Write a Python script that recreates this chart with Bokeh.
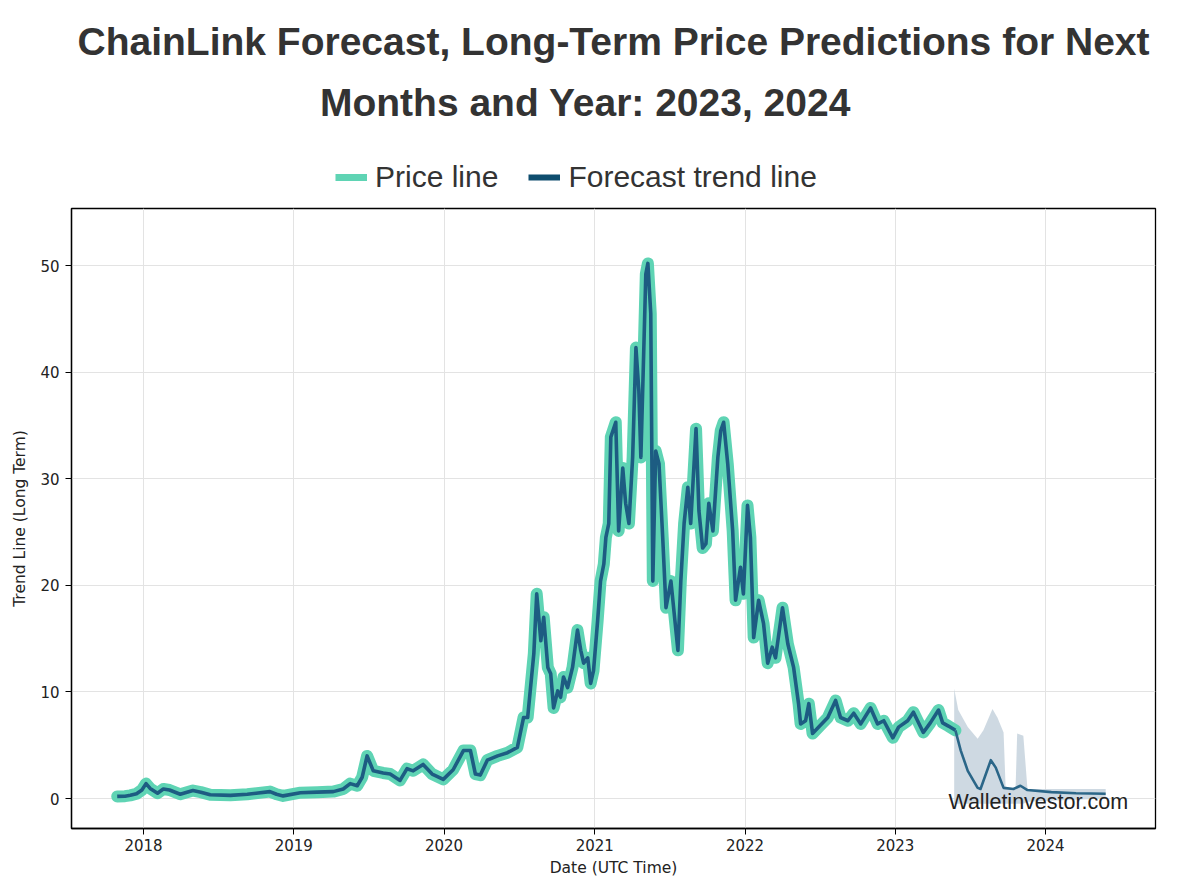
import pandas as pd
from bokeh.plotting import figure
from bokeh.layouts import column
from bokeh.models import (Range1d, FixedTicker, DatetimeTickFormatter, Legend,
                          LegendItem, Label)
from bokeh.embed import file_html
from bokeh.resources import INLINE

# ---------------- texts ----------------
title_line1 = "ChainLink Forecast, Long-Term Price Predictions for Next"
title_line2 = "Months and Year: 2023, 2024"
x_label = "Date (UTC Time)"
y_label = "Trend Line (Long Term)"
watermark = "Walletinvestor.com"
legend_price = "Price line"
legend_trend = "Forecast trend line"

# ---------------- ticks ----------------
tick_years = [2018, 2019, 2020, 2021, 2022, 2023, 2024]
y_ticks = [0, 10, 20, 30, 40, 50]

# ---------------- price history ----------------
price_dates = [
    "2017-10-29", "2017-11-17", "2017-11-30", "2017-12-15", "2017-12-28",
    "2018-01-07", "2018-01-17", "2018-02-04", "2018-02-18", "2018-03-05",
    "2018-03-31", "2018-05-01", "2018-05-20", "2018-06-12", "2018-07-31",
    "2018-09-10", "2018-11-04", "2018-11-20", "2018-12-06", "2019-01-17",
    "2019-02-27", "2019-04-07", "2019-05-01", "2019-05-18", "2019-06-04",
    "2019-06-16", "2019-06-28", "2019-07-13", "2019-08-06", "2019-08-23",
    "2019-09-16", "2019-10-03", "2019-10-18", "2019-11-11", "2019-12-03",
    "2019-12-30", "2020-01-23", "2020-02-17", "2020-03-05", "2020-03-17",
    "2020-03-29", "2020-04-15", "2020-05-10", "2020-06-03", "2020-06-27",
    "2020-07-12", "2020-07-22", "2020-07-29", "2020-08-06", "2020-08-13",
    "2020-08-23", "2020-08-30", "2020-09-09", "2020-09-16", "2020-09-23",
    "2020-10-03", "2020-10-10", "2020-10-17", "2020-10-27", "2020-11-08",
    "2020-11-20", "2020-11-28", "2020-12-05", "2020-12-15", "2020-12-22",
    "2020-12-29", "2021-01-08", "2021-01-15", "2021-01-23", "2021-01-28",
    "2021-02-04", "2021-02-09", "2021-02-21", "2021-02-28", "2021-03-10",
    "2021-03-17", "2021-03-25", "2021-04-03", "2021-04-11", "2021-04-18",
    "2021-04-23", "2021-05-05", "2021-05-10", "2021-05-17", "2021-05-22",
    "2021-05-29", "2021-06-06", "2021-06-15", "2021-06-23", "2021-07-05",
    "2021-07-22", "2021-07-29", "2021-08-06", "2021-08-15", "2021-08-22",
    "2021-09-04", "2021-09-11", "2021-09-20", "2021-09-28", "2021-10-05",
    "2021-10-15", "2021-10-27", "2021-11-03", "2021-11-10", "2021-11-20",
    "2021-12-02", "2021-12-09", "2021-12-21", "2021-12-28", "2022-01-07",
    "2022-01-14", "2022-01-22", "2022-02-03", "2022-02-15", "2022-02-25",
    "2022-03-08", "2022-03-16", "2022-04-02", "2022-04-15", "2022-04-29",
    "2022-05-11", "2022-05-16", "2022-05-28", "2022-06-05", "2022-06-14",
    "2022-06-29", "2022-07-21", "2022-08-09", "2022-08-21", "2022-09-08",
    "2022-09-22", "2022-10-09", "2022-11-02", "2022-11-19", "2022-12-04",
    "2022-12-26", "2023-01-09", "2023-01-31", "2023-02-14", "2023-03-10",
    "2023-03-27", "2023-04-16", "2023-04-26", "2023-05-10", "2023-05-27",
]
price_values = [
    0.20, 0.22, 0.30, 0.45, 0.80,
    1.40, 0.95, 0.50, 0.90, 0.80,
    0.40, 0.75, 0.60, 0.35, 0.30,
    0.40, 0.65, 0.40, 0.25, 0.55,
    0.60, 0.65, 0.90, 1.40, 1.20,
    2.00, 4.00, 2.60, 2.40, 2.30,
    1.70, 2.80, 2.60, 3.20, 2.30,
    1.80, 2.70, 4.50, 4.50, 2.30,
    2.20, 3.60, 4.00, 4.30, 4.80,
    7.60, 7.60, 10.40, 13.60, 19.20,
    14.80, 17.00, 12.30, 11.70, 8.50,
    10.10, 9.50, 11.40, 10.40, 12.30,
    15.80, 13.90, 12.70, 13.20, 10.80,
    12.00, 16.70, 20.40, 22.00, 24.50,
    25.80, 33.90, 35.30, 25.10, 31.00,
    27.70, 25.80, 32.00, 42.30, 38.30,
    32.00, 49.20, 50.20, 45.50, 20.40,
    32.60, 31.40, 24.50, 17.90, 20.40,
    13.90, 20.40, 25.80, 29.20, 25.80,
    34.70, 27.00, 23.50, 23.90, 27.70,
    25.10, 32.00, 34.50, 35.30, 31.40,
    25.10, 18.60, 21.70, 19.20, 27.50,
    24.50, 15.10, 18.60, 16.40, 12.70,
    14.20, 13.20, 17.90, 14.50, 12.30,
    8.90, 7.00, 7.30, 8.90, 6.10,
    6.70, 7.60, 9.20, 7.60, 7.30,
    8.00, 7.00, 8.50, 7.00, 7.30,
    5.70, 6.70, 7.30, 8.10, 6.20,
    7.10, 8.30, 7.10, 6.80, 6.40,
]

# ---------------- forecast ----------------
forecast_dates = [
    "2023-05-27", "2023-06-09", "2023-06-26", "2023-07-20", "2023-07-27",
    "2023-08-21", "2023-09-02", "2023-09-21", "2023-10-15", "2023-11-01",
    "2023-11-18", "2024-01-15", "2024-03-15", "2024-05-26",
]
forecast_values = [
    6.40, 4.50, 2.60, 1.00, 0.90,
    3.60, 2.90, 1.00, 0.90, 1.20,
    0.80, 0.60, 0.50, 0.45,
]

band_dates = [
    "2023-05-24", "2023-06-03", "2023-06-26", "2023-07-20", "2023-08-03",
    "2023-08-25", "2023-09-06", "2023-09-21", "2023-09-26", "2023-10-20",
    "2023-10-24", "2023-11-08", "2023-11-18", "2024-05-26",
]
band_upper = [
    10.30, 8.30, 6.70, 5.60, 6.40,
    8.40, 7.60, 6.20, 1.00, 0.80,
    6.10, 5.90, 0.90, 0.90,
]
band_lower = [
    -0.50, -0.50, -0.50, -0.50, -0.50,
    -0.50, -0.50, -0.50, -0.50, -0.50,
    -0.50, -0.50, -0.30, 0.00,
]

TEAL = "#5fd4b4"
NAVY = "#0e4d6e"

# frame geometry shared by both panels (pixels)
LEFT, RIGHT, PAGE_W = 71, 48, 1203
HEAD_H = 204


def ms(d):
    return pd.Timestamp(d).value / 1e6


price_x = [ms(d) for d in price_dates]
forecast_x = [ms(d) for d in forecast_dates]
band_x = [ms(d) for d in band_dates]
year_ticks = [ms(f"{y}-01-01") for y in tick_years]

# ================= header: title + legend =================
head = figure(
    width=PAGE_W, height=HEAD_H,
    x_range=Range1d(LEFT, PAGE_W - RIGHT), y_range=Range1d(0, HEAD_H),
    x_axis_location=None, y_axis_location=None, title_location=None,
    min_border_left=LEFT, min_border_right=RIGHT,
    min_border_top=0, min_border_bottom=0,
    toolbar_location=None, output_backend="svg",
)
head.outline_line_color = None
head.background_fill_color = "white"
head.border_fill_color = "white"
head.grid.visible = False

for txt, xpos, ypos in ((title_line1, 613, HEAD_H - 41),
                        (title_line2, 585, HEAD_H - 102)):
    head.add_layout(Label(x=xpos, y=ypos, text=txt, text_align="center",
                          text_baseline="alphabetic",
                          text_font="Liberation Sans", text_font_style="bold",
                          text_font_size="39px", text_color="#333333"))

# legend swatch carriers: style only, a single NaN point (draws nothing)
nan = float("nan")
sw_price = head.line(x=[nan], y=[nan], line_color=TEAL, line_width=7)
sw_trend = head.line(x=[nan], y=[nan], line_color=NAVY, line_width=6)

legend = Legend(
    items=[LegendItem(label=legend_price, renderers=[sw_price]),
           LegendItem(label=legend_trend, renderers=[sw_trend])],
    orientation="horizontal", location=(322 - LEFT, -3),
    label_text_font="Liberation Sans", label_text_font_size="30px",
    label_text_color="#333333",
    glyph_width=32, glyph_height=30, label_height=30,
    label_standoff=8, spacing=30, padding=13, margin=0,
    border_line_alpha=0, background_fill_alpha=0,
)
head.add_layout(legend)

# ================= main chart =================
p = figure(
    width=PAGE_W, height=684,
    x_axis_type="datetime",
    output_backend="svg",
    toolbar_location=None,
    x_range=Range1d(ms("2017-07-10"), ms("2024-09-24")),
    y_range=Range1d(-2.81, 55.35),
    min_border_left=LEFT, min_border_right=RIGHT,
    min_border_bottom=60, min_border_top=4,
)
p.background_fill_color = "white"
p.border_fill_color = "white"
p.outline_line_color = "black"
p.outline_line_width = 1.3

# forecast uncertainty band
p.varea(x=band_x, y1=band_lower, y2=band_upper,
        fill_color="#c9d5df", fill_alpha=0.9)

# price line (wide teal) and trend line (dark) on top
p.line(price_x, price_values, line_color=TEAL, line_width=12,
       line_join="round", line_cap="round")
p.line(price_x, price_values, line_color="#1d5c82", line_width=3.6,
       line_join="round")
p.line(forecast_x, forecast_values, line_color="#2b6688", line_width=2.6,
       line_join="round")

# axes
p.xaxis.ticker = FixedTicker(ticks=year_ticks)
p.xaxis.formatter = DatetimeTickFormatter(
    years="%Y", months="%Y", days="%Y", hours="%Y", hourmin="%Y",
    minutes="%Y", minsec="%Y", seconds="%Y", milliseconds="%Y",
    microseconds="%Y")
p.yaxis.ticker = FixedTicker(ticks=y_ticks)
p.xaxis.axis_label = x_label
p.yaxis.axis_label = y_label

for ax in (p.xaxis, p.yaxis):
    ax.axis_label_text_font = "DejaVu Sans"
    ax.axis_label_text_font_style = "normal"
    ax.axis_label_text_font_size = "15.5px"
    ax.axis_label_text_color = "#222222"
    ax.major_label_text_font = "DejaVu Sans"
    ax.major_label_text_font_size = "15px"
    ax.major_label_text_color = "#222222"
    ax.major_tick_out = 6
    ax.major_tick_in = 0
    ax.minor_tick_out = 0
    ax.minor_tick_in = 0
    ax.axis_line_color = "black"
    ax.axis_line_width = 1.3
    ax.major_tick_line_color = "black"
p.xaxis.major_label_standoff = 4
p.xaxis.axis_label_standoff = 5
p.yaxis.major_label_standoff = 6
p.yaxis.axis_label_standoff = 8

p.grid.grid_line_color = "#e3e3e3"
p.grid.grid_line_width = 1

# watermark
p.add_layout(Label(x=ms("2023-05-10"), y=-0.3, text=watermark,
                   text_font="Liberation Sans", text_font_size="21.5px",
                   text_color="#222222", text_baseline="alphabetic"))

layout = column(head, p, spacing=0)
open("out.html", "w").write(file_html(layout, INLINE))
